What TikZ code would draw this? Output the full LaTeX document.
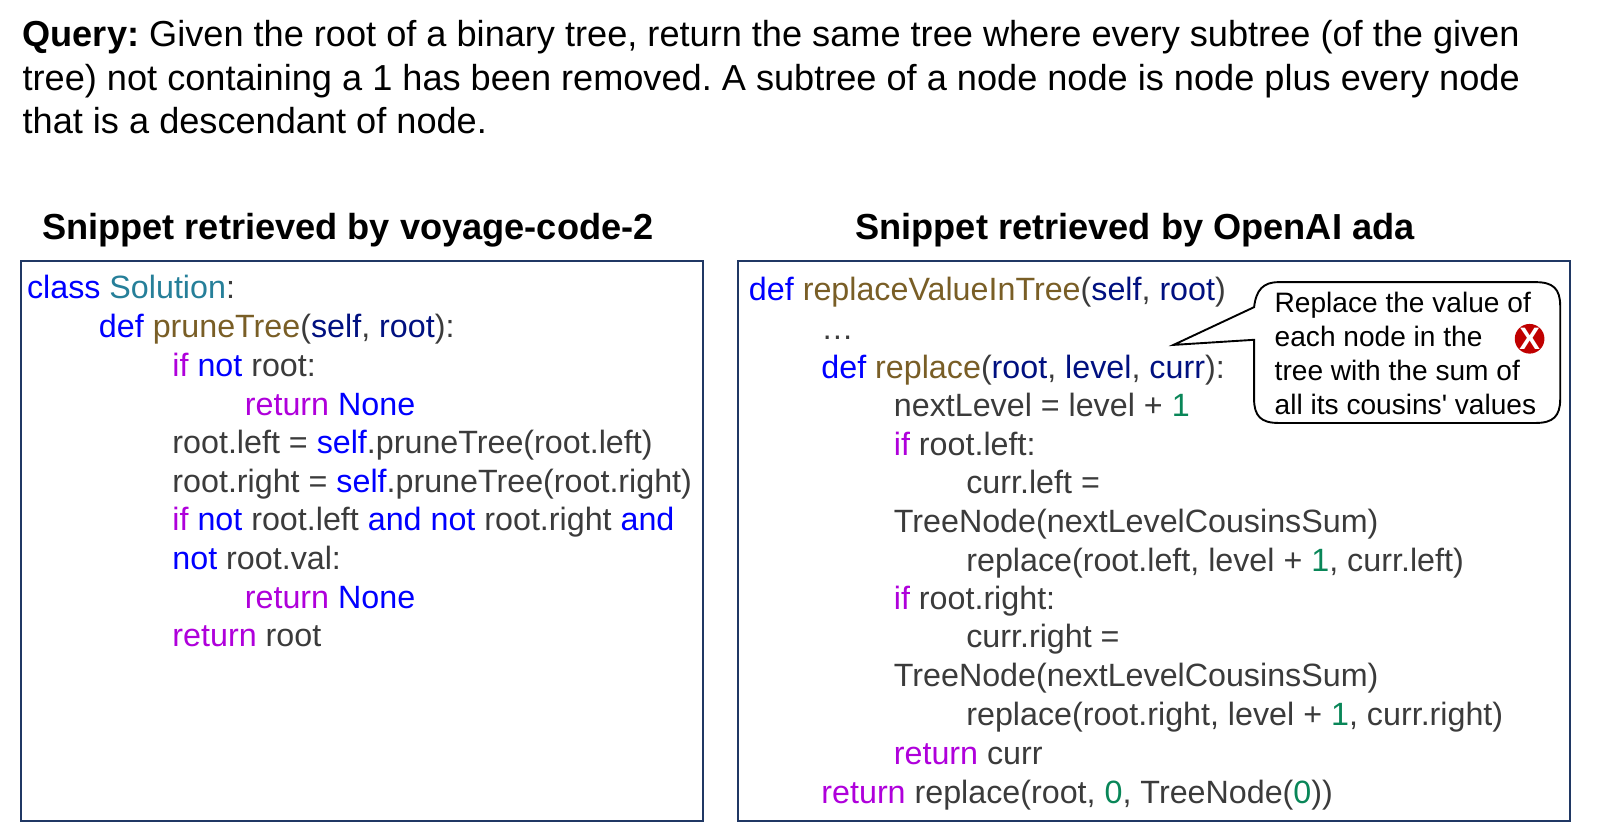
\documentclass[tikz,border=0pt]{standalone}
\usepackage{fontspec}
\setmainfont{Liberation Sans}
\definecolor{kwblue}{HTML}{0000FF}
\definecolor{kwpurple}{HTML}{AF00DB}
\definecolor{fnbrown}{HTML}{795E26}
\definecolor{parnavy}{HTML}{001080}
\definecolor{clsteal}{HTML}{267F99}
\definecolor{numgreen}{HTML}{098658}
\definecolor{txtgray}{HTML}{3B3B3B}
\definecolor{framenavy}{HTML}{203864}
\definecolor{xred}{HTML}{C00000}
\newcommand{\kb}[1]{\textcolor{kwblue}{#1}}
\newcommand{\kp}[1]{\textcolor{kwpurple}{#1}}
\newcommand{\fnc}[1]{\textcolor{fnbrown}{#1}}
\newcommand{\prm}[1]{\textcolor{parnavy}{#1}}
\newcommand{\cls}[1]{\textcolor{clsteal}{#1}}
\newcommand{\nmb}[1]{\textcolor{numgreen}{#1}}
\frenchspacing
\tikzset{
  x=1.0204pt,y=-1.0204pt,
  codeline/.style={anchor=base west,inner sep=0pt,outer sep=0pt,text=txtgray,font=\fontsize{32.25}{36}\selectfont},
  querytext/.style={anchor=base west,inner sep=0pt,text=black,font=\fontsize{36.15}{40}\selectfont},
  titletext/.style={anchor=base west,inner sep=0pt,text=black,font=\bfseries\fontsize{36.2}{40}\selectfont},
  framebox/.style={draw=framenavy,line width=2pt},
  bubbletext/.style={anchor=base west,inner sep=0pt,text=black,font=\fontsize{28.1}{34}\selectfont},
}
\begin{document}
\begin{tikzpicture}
\useasboundingbox (0,0) rectangle (1568,814.3);
\node[querytext] (q1) at (22,46) {\textbf{Query:} Given the root of a binary tree, return the same tree where every subtree (of the given};
\node[querytext] (q2) at (22,89) {tree) not containing a 1 has been removed. A subtree of a node node is node plus every node};
\node[querytext] (q3) at (22,131) {that is a descendant of node.};
\node[titletext] (t1) at (41,234.5) {Snippet retrieved by voyage-code-2};
\node[titletext] (t2) at (838,234.5) {Snippet retrieved by OpenAI ada};
\draw[framebox] (20.5,256) rectangle (689,805);
\draw[framebox] (723,256) rectangle (1539,805);
% left code
\node[codeline] (a1) at (26.5,293) {\kb{class} \cls{Solution}:};
\node[codeline] (a2) at (97,331) {\kb{def} \fnc{pruneTree}(\prm{self}, \prm{root}):};
\node[codeline] (a3) at (169,369) {\kp{if} \kb{not} root:};
\node[codeline] (a4) at (240,407) {\kp{return} \kb{None}};
\node[codeline] (a5) at (169,444.5) {root.left = \kb{self}.pruneTree(root.left)};
\node[codeline] (a6) at (169,482.5) {root.right = \kb{self}.pruneTree(root.right)};
\node[codeline] (a7) at (169,520) {\kp{if} \kb{not} root.left \kb{and} \kb{not} root.right \kb{and}};
\node[codeline] (a8) at (169,558) {\kb{not} root.val:};
\node[codeline] (a9) at (240,596) {\kp{return} \kb{None}};
\node[codeline] (a10) at (169,634) {\kp{return} root};
% right code
\node[codeline] (b1) at (734,294.5) {\kb{def} \fnc{replaceValueInTree}(\prm{self}, \prm{root})};
\node[codeline] (b2) at (805,332.5) {…};
\node[codeline] (b3) at (805,370.5) {\kb{def} \fnc{replace}(\prm{root}, \prm{level}, \prm{curr}):};
\node[codeline] (b4) at (876,408.5) {nextLevel = level + \nmb{1}};
\node[codeline] (b5) at (876,446) {\kp{if} root.left:};
\node[codeline] (b6) at (947,484) {curr.left =};
\node[codeline] (b7) at (876,522) {TreeNode(nextLevelCousinsSum)};
\node[codeline] (b8) at (947,560) {replace(root.left, level + \nmb{1}, curr.left)};
\node[codeline] (b9) at (876,597.5) {\kp{if} root.right:};
\node[codeline] (b10) at (947,635) {curr.right =};
\node[codeline] (b11) at (876,673) {TreeNode(nextLevelCousinsSum)};
\node[codeline] (b12) at (947,711) {replace(root.right, level + \nmb{1}, curr.right)};
\node[codeline] (b13) at (876,749) {\kp{return} curr};
\node[codeline] (b14) at (805,787) {\kp{return} replace(root, \nmb{0}, TreeNode(\nmb{0}))};
% callout
\draw[black,line width=1.9pt,fill=white,line join=miter]
  (1150,338) -- (1229,333) -- (1229,391)
  .. controls (1229,408) and (1236,414.5) .. (1253,414.5) -- (1505,414.5)
  .. controls (1522,414.5) and (1529,408) .. (1529,391) -- (1529,300)
  .. controls (1529,283) and (1522,276.5) .. (1505,276.5) -- (1253,276.5)
  .. controls (1238,276.5) and (1231,284) .. (1229,301) -- cycle;
\node[bubbletext] (c1) at (1249,306) {Replace the value of};
\node[bubbletext] (c2) at (1249,340) {each node in the};
\node[bubbletext] (c3) at (1249,373) {tree with the sum of};
\node[bubbletext] (c4) at (1249,406) {all its cousins\textquotesingle{} values};
\node[circle,fill=xred,text=white,inner sep=0pt,minimum size=29pt,font=\bfseries\fontsize{31}{31}\selectfont] (cross) at (1499,332) {X};
\end{tikzpicture}
\end{document}
